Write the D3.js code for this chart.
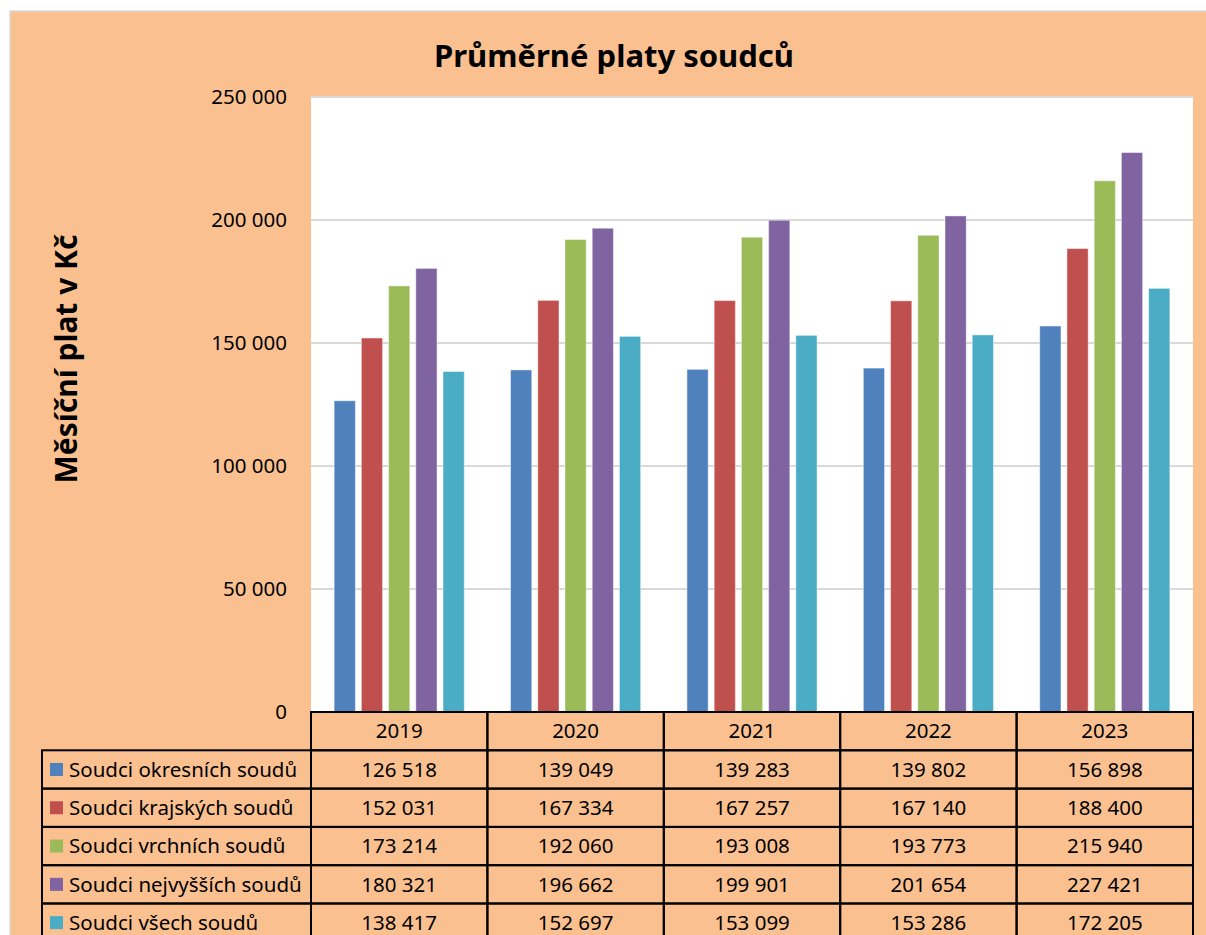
<!DOCTYPE html>
<html>
<head>
<meta charset="utf-8">
<title>Průměrné platy soudců</title>
<script src="https://d3js.org/d3.v7.min.js"></script>
<style>
    body { margin: 0; background: #fff; }
    svg text { font-family: "Noto Sans", "Open Sans", sans-serif; fill: #000; }
</style>
</head>
<body>
<div id="chart"></div>
<script>
    const years = ["2019", "2020", "2021", "2022", "2023"];
    const seriesNames = [
        "Soudci okresních soudů",
        "Soudci krajských soudů",
        "Soudci vrchních soudů",
        "Soudci nejvyšších soudů",
        "Soudci všech soudů"
    ];
    const okresni   = [126518, 139049, 139283, 139802, 156898];
    const krajske   = [152031, 167334, 167257, 167140, 188400];
    const vrchni    = [173214, 192060, 193008, 193773, 215940];
    const nejvyssi  = [180321, 196662, 199901, 201654, 227421];
    const vsechny   = [138417, 152697, 153099, 153286, 172205];
    const yTicks = [0, 50000, 100000, 150000, 200000, 250000];
    const colors = ["#4F81BD", "#C0504D", "#9BBB59", "#8064A2", "#4BACC6"];

    const seriesValues = [okresni, krajske, vrchni, nejvyssi, vsechny];

    const width = 1206, height = 935;
    const plot = {left: 311, right: 1193, top: 97, bottom: 712};
    const tableLeft = 42, rowH = 38.3;
    const fontSize = "20.5px";

    const fmt = v => d3.format(",")(v).replace(/,/g, " ");

    const svg = d3.select("#chart").append("svg")
        .attr("width", width)
        .attr("height", height);

    // orange chart area
    svg.append("rect")
        .attr("x", 10).attr("y", 11)
        .attr("width", width).attr("height", height)
        .attr("fill", "#FAC090")
        .attr("stroke", "#D9D9D9")
        .attr("stroke-width", 1.5);

    svg.append("rect")
        .attr("x", plot.left).attr("y", plot.top)
        .attr("width", plot.right - plot.left)
        .attr("height", plot.bottom - plot.top)
        .attr("fill", "#fff");

    var x0 = d3.scaleBand().domain(years).range([plot.left, plot.right]);
    var x1 = d3.scaleBand().domain(d3.range(seriesNames.length))
        .range([0, x0.bandwidth()])
        .paddingInner(0.22)
        .paddingOuter(0.85);
    var y = d3.scaleLinear().domain([0, 250000]).range([plot.bottom, plot.top]);

    // gridlines
    svg.append("g").selectAll("line")
        .data(yTicks.filter(d => d > 0))
        .enter().append("line")
        .attr("x1", plot.left).attr("x2", plot.right)
        .attr("y1", d => y(d)).attr("y2", d => y(d))
        .attr("stroke", "#D9D9D9")
        .attr("stroke-width", 2);

    // y tick labels
    svg.append("g").selectAll("text")
        .data(yTicks)
        .enter().append("text")
        .attr("x", 287)
        .attr("y", d => y(d))
        .attr("dy", "0.35em")
        .attr("text-anchor", "end")
        .style("font-size", fontSize)
        .text(d => d === 0 ? "0" : fmt(d));

    // bars
    var groups = svg.append("g").selectAll("g")
        .data(years)
        .enter().append("g")
        .attr("transform", d => "translate(" + x0(d) + ",0)");

    groups.selectAll("rect")
        .data((d, i) => seriesValues.map((vals, s) => ({s: s, value: vals[i]})))
        .enter().append("rect")
        .attr("x", d => x1(d.s))
        .attr("y", d => y(d.value))
        .attr("width", x1.bandwidth())
        .attr("height", d => y(0) - y(d.value))
        .attr("fill", d => colors[d.s])
        .attr("stroke", "rgba(255,255,255,0.45)")
        .attr("stroke-width", 1);

    // title
    svg.append("text")
        .attr("x", 614).attr("y", 67)
        .attr("text-anchor", "middle")
        .style("font-size", "31px")
        .style("font-weight", "bold")
        .text("Průměrné platy soudců");

    // y axis title
    svg.append("text")
        .attr("transform", "translate(77,359) rotate(-90)")
        .attr("text-anchor", "middle")
        .style("font-size", "30px")
        .style("font-weight", "bold")
        .text("Měsíční plat v Kč");

    // data table
    var table = svg.append("g");
    var lineStyle = sel => sel.attr("stroke", "#000").attr("stroke-width", 2);

    // header row
    table.selectAll(".hdr")
        .data(years)
        .enter().append("rect")
        .attr("class", "hdr")
        .attr("x", d => x0(d)).attr("y", plot.bottom)
        .attr("width", x0.bandwidth()).attr("height", rowH)
        .attr("fill", "none")
        .call(lineStyle);

    table.selectAll(".hdrText")
        .data(years)
        .enter().append("text")
        .attr("x", d => x0(d) + x0.bandwidth() / 2)
        .attr("y", plot.bottom + rowH / 2)
        .attr("dy", "0.35em")
        .attr("text-anchor", "middle")
        .style("font-size", fontSize)
        .text(d => d);

    seriesNames.forEach(function(name, s) {
        var rowY = plot.bottom + rowH * (s + 1);
        table.append("rect")
            .attr("x", tableLeft).attr("y", rowY)
            .attr("width", plot.left - tableLeft).attr("height", rowH)
            .attr("fill", "none")
            .call(lineStyle);
        table.append("rect")
            .attr("x", 50).attr("y", rowY + rowH / 2 - 6.5)
            .attr("width", 13).attr("height", 13)
            .attr("fill", colors[s]);
        table.append("text")
            .attr("x", 69).attr("y", rowY + rowH / 2)
            .attr("dy", "0.35em")
            .style("font-size", fontSize)
            .text(name);

        years.forEach(function(yr, i) {
            table.append("rect")
                .attr("x", x0(yr)).attr("y", rowY)
                .attr("width", x0.bandwidth()).attr("height", rowH)
                .attr("fill", "none")
                .call(lineStyle);
            table.append("text")
                .attr("x", x0(yr) + x0.bandwidth() / 2)
                .attr("y", rowY + rowH / 2)
                .attr("dy", "0.35em")
                .attr("text-anchor", "middle")
                .style("font-size", fontSize)
                .text(fmt(seriesValues[s][i]));
        });
    });
</script>
</body>
</html>
